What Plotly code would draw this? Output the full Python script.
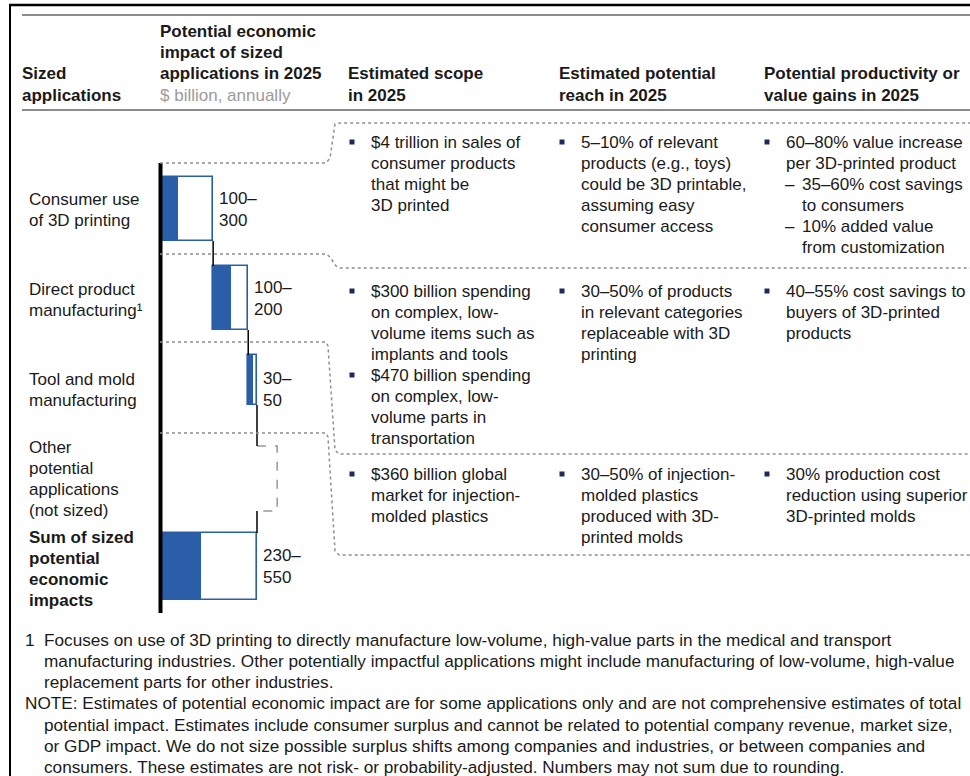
import plotly.graph_objects as go

# ---------------- data ----------------
app_labels = [
    ["Consumer use", "of 3D printing"],
    ["Direct product", "manufacturing¹"],
    ["Tool and mold", "manufacturing"],
    ["Other", "potential", "applications", "(not sized)"],
    ["Sum of sized", "potential", "economic", "impacts"],
]
impact_low = [100, 100, 30, None, 230]      # $ billion, low end
impact_high = [300, 200, 50, None, 550]     # $ billion, high end
other_placeholder = 115                     # unsized placeholder box width

header_cols = [
    ["Sized", "applications"],
    ["Potential economic", "impact of sized", "applications in 2025"],
    ["Estimated scope", "in 2025"],
    ["Estimated potential", "reach in 2025"],
    ["Potential productivity or", "value gains in 2025"],
]
header_sub = "$ billion, annually"

# each cell: list of (kind, text); b=bullet, c=continuation, d=dash item, e=dash continuation
scope_text = [
    [("b", "$4 trillion in sales of"), ("c", "consumer products"), ("c", "that might be"), ("c", "3D printed")],
    [("b", "$300 billion spending"), ("c", "on complex, low-"), ("c", "volume items such as"), ("c", "implants and tools"),
     ("b", "$470 billion spending"), ("c", "on complex, low-"), ("c", "volume parts in"), ("c", "transportation")],
    [("b", "$360 billion global"), ("c", "market for injection-"), ("c", "molded plastics")],
]
reach_text = [
    [("b", "5–10% of relevant"), ("c", "products (e.g., toys)"), ("c", "could be 3D printable,"), ("c", "assuming easy"), ("c", "consumer access")],
    [("b", "30–50% of products"), ("c", "in relevant categories"), ("c", "replaceable with 3D"), ("c", "printing")],
    [("b", "30–50% of injection-"), ("c", "molded plastics"), ("c", "produced with 3D-"), ("c", "printed molds")],
]
gains_text = [
    [("b", "60–80% value increase"), ("c", "per 3D-printed product"), ("d", "35–60% cost savings"), ("e", "to consumers"),
     ("d", "10% added value"), ("e", "from customization")],
    [("b", "40–55% cost savings to"), ("c", "buyers of 3D-printed"), ("c", "products")],
    [("b", "30% production cost"), ("c", "reduction using superior"), ("c", "3D-printed molds")],
]
footnote_1 = [
    "Focuses on use of 3D printing to directly manufacture low-volume, high-value parts in the medical and transport",
    "manufacturing industries. Other potentially impactful applications might include manufacturing of low-volume, high-value",
    "replacement parts for other industries.",
]
footnote_note = [
    "NOTE: Estimates of potential economic impact are for some applications only and are not comprehensive estimates of total",
    "potential impact. Estimates include consumer surplus and cannot be related to potential company revenue, market size,",
    "or GDP impact. We do not size possible surplus shifts among companies and industries, or between companies and",
    "consumers. These estimates are not risk- or probability-adjusted. Numbers may not sum due to rounding.",
]

# ---------------- layout constants (pixels) ----------------
W, H = 970, 776
FONT = "Liberation Sans, Arial, sans-serif"
BLUE = "#2b5ea9"
NAVY = "#1d2a5c"
TXT = "#1a1a1a"
GRAY = "#8c8c8c"
FS = 17
LH = 21

row_center = [209, 298, 380, 478.5, 566.5]
bar_h = [64, 64, 50, 65, 67]
label_dy = [0, 0, 9, 0, 0]
zero_px = 160.5
px_per_unit = 96.5 / 550
x0 = -zero_px / px_per_unit
x1 = x0 + W / px_per_unit

# waterfall bases
bases = []
cum = 0
for i, (lo, hi) in enumerate(zip(impact_low, impact_high)):
    if i == len(impact_low) - 1:
        bases.append(0)
    else:
        bases.append(cum)
        if hi is not None:
            cum += hi

fig = go.Figure()

sized = [i for i in range(len(impact_high)) if impact_high[i] is not None]

# high (outline) bars
fig.add_trace(go.Bar(
    orientation="h",
    y=[row_center[i] for i in sized],
    x=[impact_high[i] for i in sized],
    base=[bases[i] for i in sized],
    width=[bar_h[i] for i in sized],
    marker=dict(color="white", line=dict(color=BLUE, width=1.6)),
    hoverinfo="skip", showlegend=False,
))
# low (filled) bars
fig.add_trace(go.Bar(
    orientation="h",
    y=[row_center[i] for i in sized],
    x=[impact_low[i] for i in sized],
    base=[bases[i] for i in sized],
    width=[bar_h[i] for i in sized],
    marker=dict(color=BLUE, line=dict(color=BLUE, width=1)),
    hoverinfo="skip", showlegend=False,
))

shapes = []
annotations = []

# dashed placeholder for unsized
io = 3
ob = bases[io]
top = row_center[io] - bar_h[io] / 2
bot = row_center[io] + bar_h[io] / 2
shapes.append(dict(type="path", xref="x", yref="y",
                   path=f"M {ob} {top} L {ob + other_placeholder} {top} L {ob + other_placeholder} {bot} L {ob} {bot}",
                   line=dict(color="#999999", width=1.5, dash="dash")))

# connector lines between waterfall steps
for i in range(len(row_center) - 1):
    xc = bases[i + 1] if i + 1 < len(row_center) - 1 else cum
    if i == 3:
        xc = cum
    y_from = row_center[i] + bar_h[i] / 2
    y_to = row_center[i + 1] - bar_h[i + 1] / 2
    shapes.append(dict(type="line", xref="x", yref="y", x0=xc, x1=xc, y0=y_from, y1=y_to,
                       line=dict(color="black", width=1.5)))

# main vertical axis line
shapes.append(dict(type="line", xref="x", yref="y", x0=0, x1=0, y0=163, y1=613,
                   line=dict(color="black", width=4)))

# value labels
for i in sized:
    annotations.append(dict(xref="x", yref="y", x=bases[i] + impact_high[i], y=row_center[i] + label_dy[i],
                            xanchor="left", yanchor="middle", xshift=4, align="left", showarrow=False,
                            text=f"{impact_low[i]}–<br>{impact_high[i]}",
                            font=dict(family=FONT, size=FS, color=TXT)))


def txt(x, y, s, bold=False, color=TXT, size=FS):
    if bold:
        s = f"<b>{s}</b>"
    annotations.append(dict(xref="x2", yref="y", x=x - 2, y=y, text=s, showarrow=False,
                            xanchor="left", yanchor="middle", font=dict(family=FONT, size=size, color=color)))


# frame lines
shapes.append(dict(type="line", xref="x2", yref="y", x0=9, x1=W, y0=5, y1=5, line=dict(color="black", width=2.5)))
shapes.append(dict(type="line", xref="x2", yref="y", x0=10, x1=10, y0=4, y1=H, line=dict(color="black", width=2)))
shapes.append(dict(type="line", xref="x2", yref="y", x0=22, x1=W, y0=15, y1=15, line=dict(color=GRAY, width=2)))
shapes.append(dict(type="line", xref="x2", yref="y", x0=22, x1=W, y0=110, y1=110, line=dict(color=GRAY, width=2)))

# dotted funnel separators
sep_paths = [
    "M 160 163 L 326 163 L 330 158 L 335 124 L 340 123 L 970 123",
    "M 160 254 L 326 254 L 330 257 L 336 266 L 340 268 L 970 268",
    "M 160 342 L 326 342 L 328 346 L 335 450 L 339 454 L 970 454",
    "M 160 433 L 326 433 L 328 437 L 335 551 L 339 555 L 970 555",
]
for p in sep_paths:
    shapes.append(dict(type="path", xref="x2", yref="y", path=p,
                       line=dict(color="#8f8f8f", width=1.5, dash="dot")))

# header
txt(22, 73, header_cols[0][0], bold=True)
txt(22, 95, header_cols[0][1], bold=True)
for k, s in enumerate(header_cols[1]):
    txt(160, 31 + k * 21, s, bold=True)
txt(160, 95, header_sub, color="#9b9b9b")
for cx, col in zip([348, 559, 764], header_cols[2:]):
    txt(cx, 73, col[0], bold=True)
    txt(cx, 95, col[1], bold=True)

# left labels
label_top = [199, 289, 379, 447, 537]
for i, lines in enumerate(app_labels):
    for k, s in enumerate(lines):
        txt(29, label_top[i] + k * LH, s, bold=(i == len(app_labels) - 1))

# body columns
row_first = [142, 291, 474]
bullet_x, bullet_y = [], []
for col_x, cells in zip([352, 562, 767], [scope_text, reach_text, gains_text]):
    for r, cell in enumerate(cells):
        for k, (kind, s) in enumerate(cell):
            y = row_first[r] + k * LH
            if kind == "b":
                bullet_x.append(col_x)
                bullet_y.append(y)
                txt(col_x + 19, y, s)
            elif kind == "c":
                txt(col_x + 19, y, s)
            elif kind == "d":
                txt(col_x + 18, y, "–")
                txt(col_x + 35, y, s)
            else:
                txt(col_x + 35, y, s)

fig.add_trace(go.Scatter(x=bullet_x, y=bullet_y, xaxis="x2", yaxis="y", mode="markers",
                         marker=dict(symbol="square", size=5, color=NAVY), hoverinfo="skip", showlegend=False))

# footnotes
FN = 17.2
fy = 639.5
FLH = 21.3
txt(25, fy, "1", size=FN)
for k, s in enumerate(footnote_1):
    txt(44, fy + k * FLH, s, size=FN)
ny = fy + 3 * FLH
txt(25, ny, footnote_note[0], size=FN)
for k, s in enumerate(footnote_note[1:]):
    txt(44, ny + (k + 1) * FLH, s, size=FN)

fig.update_layout(
    width=W, height=H, margin=dict(l=0, r=0, t=0, b=0),
    paper_bgcolor="white", plot_bgcolor="rgba(0,0,0,0)",
    barmode="overlay", bargap=0,
    xaxis=dict(range=[x0, x1], domain=[0, 1], visible=False, fixedrange=True),
    xaxis2=dict(range=[0, W], domain=[0, 1], anchor="y", overlaying="x", visible=False, fixedrange=True),
    yaxis=dict(range=[H, 0], domain=[0, 1], visible=False, fixedrange=True),
    shapes=shapes, annotations=annotations,
)

fig.write_html("out.html", config={"displayModeBar": False})
